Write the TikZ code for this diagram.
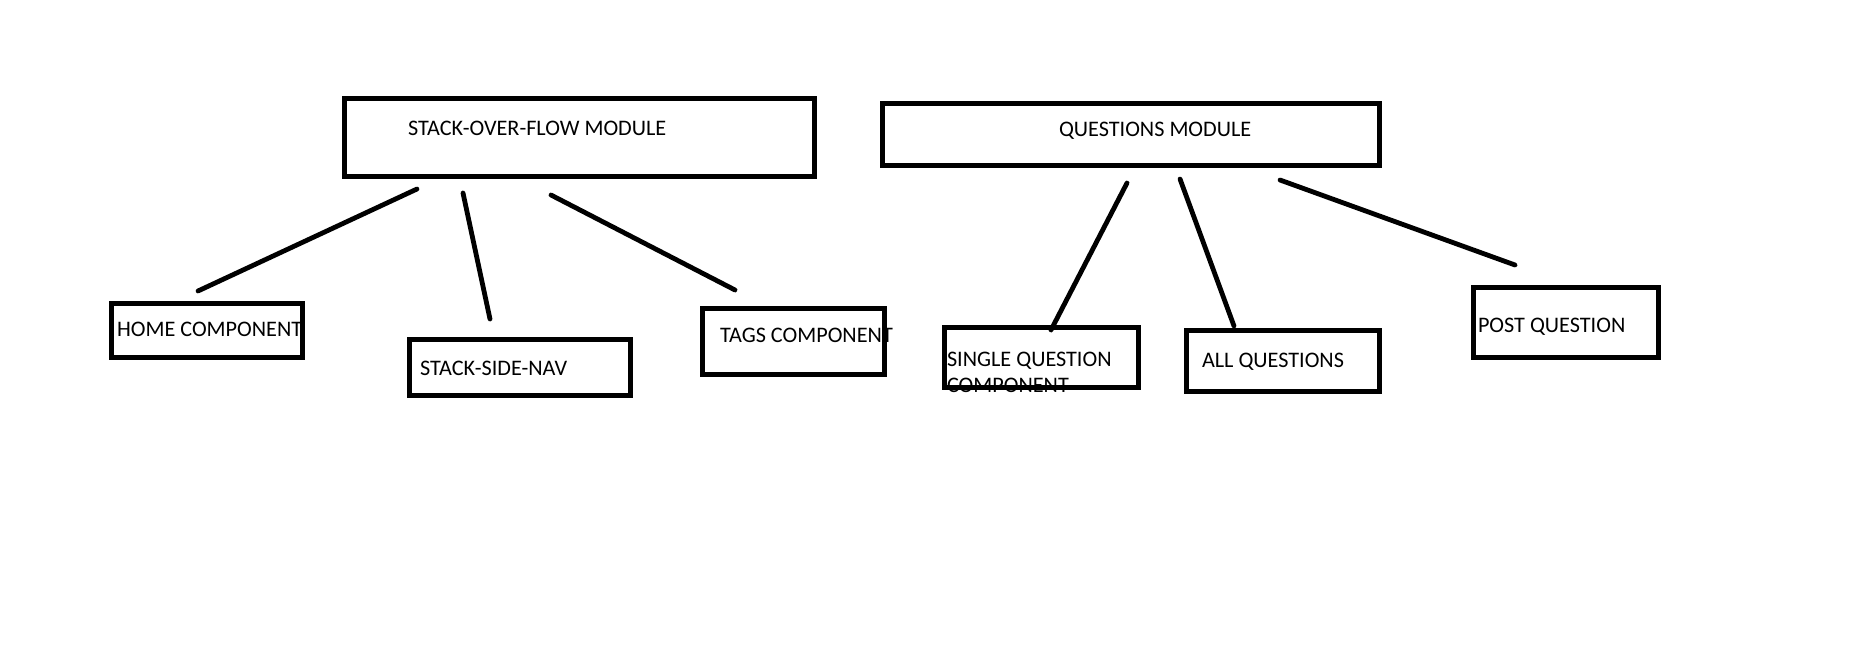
\documentclass[tikz,border=0pt]{standalone}
\usepackage{fontspec}
\setmainfont{Carlito}
\begin{document}
\begin{tikzpicture}[x=1pt,y=-1pt,
  box/.style={draw=black, line width=5pt, rectangle, inner sep=0pt, outer sep=0pt},
  label/.style={anchor=base west, inner sep=0pt, outer sep=0pt, font=\fontsize{22.2}{26}\selectfont, text=black},
  link/.style={draw=black, line width=4.8pt, line cap=round}]
\useasboundingbox[fill=white] (0,0) rectangle (1871,648);

% texts
\node[label] (tstack) at (408,135) {STACK-OVER-FLOW MODULE};
\node[label] (tquest) at (1059,136) {QUESTIONS MODULE};
\node[label] (thome) at (117,336) {HOME COMPONENT};
\node[label] (tnav) at (420,375) {STACK-SIDE-NAV};
\node[label] (ttags) at (720,342) {TAGS COMPONENT};
\node[label] (tsingle) at (947,366.5) {SINGLE QUESTION};
\node[label] (tsingleb) at (947,392) {COMPONENT};
\node[label] (tall) at (1202,367) {ALL QUESTIONS};
\node[label] (tpost) at (1478,332) {POST QUESTION};

% boxes (outer edges minus line width)
\node[box, minimum width=470pt, minimum height=78.5pt] (stack) at (579.5,137.25) {};
\node[box, minimum width=497pt, minimum height=62pt] (quest) at (1131,134) {};
\node[box, minimum width=191pt, minimum height=54pt] (home) at (207,330.5) {};
\node[box, minimum width=221pt, minimum height=56pt] (nav) at (520,367.5) {};
\node[box, minimum width=182pt, minimum height=66pt] (tags) at (793.5,341.5) {};
\node[box, minimum width=194pt, minimum height=59.5pt] (single) at (1041.5,357.25) {};
\node[box, minimum width=193pt, minimum height=61pt] (all) at (1283,361) {};
\node[box, minimum width=185pt, minimum height=70pt] (post) at (1566,322.5) {};

% connector end points
\coordinate (s1) at (417,189);  \coordinate (h1) at (198,291);
\coordinate (s2) at (463,193);  \coordinate (n1) at (490,319);
\coordinate (s3) at (551,195);  \coordinate (g1) at (735,290);
\coordinate (q1) at (1127,183); \coordinate (sq1) at (1051,330);
\coordinate (q2) at (1180,179); \coordinate (a1) at (1234,326);
\coordinate (q3) at (1280,180); \coordinate (p1) at (1515,265);

\draw[link] (s1) -- (h1);
\draw[link] (s2) -- (n1);
\draw[link] (s3) -- (g1);
\draw[link] (q1) -- (sq1);
\draw[link] (q2) -- (a1);
\draw[link] (q3) -- (p1);
\end{tikzpicture}
\end{document}
